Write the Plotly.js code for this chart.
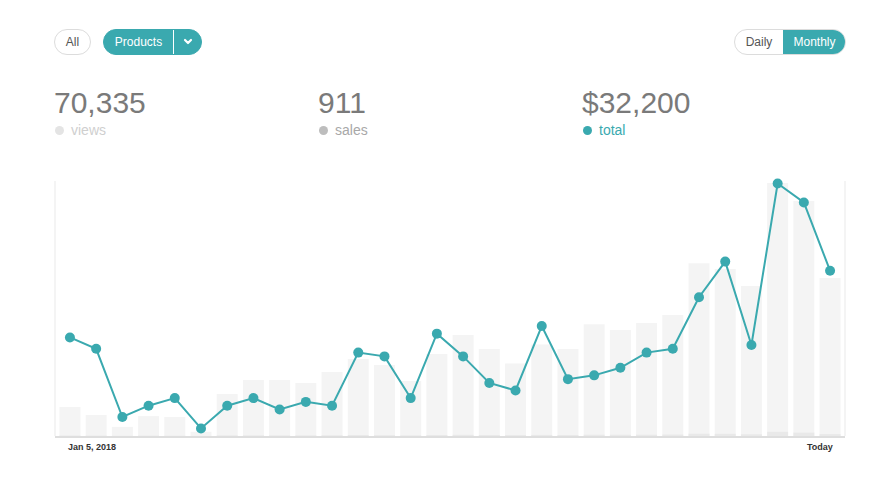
<!DOCTYPE html>
<html>
<head>
<meta charset="utf-8">
<script src="https://cdn.plot.ly/plotly-3.0.1.min.js"></script>
<style>
  html, body { margin: 0; padding: 0; background: #ffffff; }
  #wrap { position: relative; width: 892px; height: 480px; overflow: hidden; font-family: "Liberation Sans", Arial, Helvetica, sans-serif; }
  #chart { position: absolute; left: 0; top: 0; width: 892px; height: 480px; }
  .abs { position: absolute; box-sizing: border-box; }
  .pill { height: 26px; line-height: 24px; font-size: 12px; text-align: center; border-radius: 13px; }
  .num { font-size: 30px; color: #7a7a7a; line-height: 30px; letter-spacing: 0px; }
  .lbl { font-size: 14px; line-height: 16px; }
  .dot { width: 9px; height: 9px; border-radius: 50%; }
</style>
</head>
<body>
<div id="wrap">
  <div id="chart"></div>

  <!-- header controls -->
  <div class="abs pill" style="left:54px;top:29px;width:37px;border:1px solid #dcdcdc;color:#555;">All</div>
  <div class="abs pill" style="left:103px;top:29px;width:99px;background:#3aa9af;color:#fff;border:1px solid #3aa9af;">
    <span class="abs" style="left:0;top:0;width:69px;text-align:center;">Products</span>
    <span class="abs" style="left:69px;top:0;width:1px;height:24px;background:#ffffff;"></span>
    <svg class="abs" style="left:79px;top:8px;" width="10" height="8" viewBox="0 0 10 8">
      <polyline points="2,2 5,5 8,2" fill="none" stroke="#fff" stroke-width="2.2" stroke-linecap="round" stroke-linejoin="round"/>
    </svg>
  </div>
  <div class="abs pill" style="left:734px;top:29px;width:112px;border:1px solid #dcdcdc;overflow:hidden;">
    <span class="abs" style="left:0;top:0;width:48px;color:#555;text-align:center;">Daily</span>
    <span class="abs" style="left:48px;top:-1px;width:63px;height:26px;line-height:26px;background:#3aa9af;color:#fff;text-align:center;">Monthly</span>
  </div>

  <!-- stats -->
  <div class="abs num" id="s0" style="left:54px;top:88px;"></div>
  <div class="abs dot" style="left:55px;top:126px;background:#e4e4e4;"></div>
  <div class="abs lbl" id="l0" style="left:71px;top:122px;color:#cfcfcf;"></div>

  <div class="abs num" id="s1" style="left:318px;top:88px;"></div>
  <div class="abs dot" style="left:319px;top:126px;background:#bdbdbd;"></div>
  <div class="abs lbl" id="l1" style="left:335px;top:122px;color:#a8a8a8;"></div>

  <div class="abs num" id="s2" style="left:582px;top:88px;"></div>
  <div class="abs dot" style="left:583px;top:126px;background:#3aa9af;"></div>
  <div class="abs lbl" id="l2" style="left:599px;top:122px;color:#3aa9af;"></div>
</div>

<script>
// ---------------- data ----------------
var days = [
  "2018-01-05","2018-01-06","2018-01-07","2018-01-08","2018-01-09","2018-01-10",
  "2018-01-11","2018-01-12","2018-01-13","2018-01-14","2018-01-15","2018-01-16",
  "2018-01-17","2018-01-18","2018-01-19","2018-01-20","2018-01-21","2018-01-22",
  "2018-01-23","2018-01-24","2018-01-25","2018-01-26","2018-01-27","2018-01-28",
  "2018-01-29","2018-01-30","2018-01-31","2018-02-01","2018-02-02","2018-02-03"
];
var views = [760, 550, 240, 520, 500, 110, 1100, 1470, 1470, 1390,
             1680, 2020, 1860, 1440, 2150, 2650, 2280, 1900, 2400, 2280,
             2930, 2780, 2960, 3170, 4530, 4380, 3930, 6630, 6160, 4140];
var sales = [12, 10, 5, 10, 9, 3, 15, 18, 18, 17,
             20, 24, 22, 17, 26, 30, 27, 23, 29, 27,
             34, 32, 35, 37, 60, 56, 45, 110, 90, 50];
var total = [1300, 1150, 250, 400, 500, 100, 400, 500, 350, 450,
             400, 1100, 1050, 500, 1350, 1050, 700, 600, 1450, 750,
             800, 900, 1100, 1150, 1830, 2300, 1200, 3330, 3080, 2180];
var statValues = ["70,335", "911", "$32,200"];
var statLabels = ["views", "sales", "total"];
var tickLabels = ["Jan 5, 2018", "Today"];

// ---------------- header text ----------------
for (var i = 0; i < 3; i++) {
  document.getElementById("s" + i).textContent = statValues[i];
  document.getElementById("l" + i).textContent = statLabels[i];
}

// ---------------- chart ----------------
var teal = "#3aa9af";
var traces = [
  { type: "bar", x: days, y: views, marker: { color: "#f4f4f4", line: { width: 0 } }, hoverinfo: "skip" },
  { type: "bar", x: days, y: sales, marker: { color: "#e9e9e9", line: { width: 0 } }, hoverinfo: "skip" },
  { type: "scatter", mode: "lines+markers", x: days, y: total, yaxis: "y2", cliponaxis: false,
    line: { color: teal, width: 2 }, marker: { color: teal, size: 10, line: { width: 0 } }, hoverinfo: "skip" }
];

var layout = {
  width: 892, height: 480,
  margin: { l: 55, r: 47, t: 181, b: 44 },
  paper_bgcolor: "rgba(0,0,0,0)", plot_bgcolor: "rgba(0,0,0,0)",
  showlegend: false,
  barmode: "overlay",
  bargap: 0.2,
  font: { family: "Liberation Sans, Arial, sans-serif" },
  xaxis: { type: "category", range: [-0.57, 29.57], showticklabels: false, ticks: "",
           showgrid: false, zeroline: false, showline: true, linecolor: "#dedede", linewidth: 1.5, fixedrange: true },
  yaxis: { range: [0, 6685], visible: false, showgrid: false, zeroline: false, fixedrange: true },
  yaxis2: { range: [0, 3363], overlaying: "y", visible: false, showgrid: false, zeroline: false, fixedrange: true },
  shapes: [
    { type: "line", xref: "paper", yref: "paper", x0: 0, x1: 0, y0: 0, y1: 1, line: { color: "#f0f0f0", width: 1.5 } },
    { type: "line", xref: "paper", yref: "paper", x0: 1, x1: 1, y0: 0, y1: 1, line: { color: "#f0f0f0", width: 1.5 } }
  ],
  annotations: [
    { x: days[0], y: 0, xref: "x", yref: "paper", text: "<b>" + tickLabels[0] + "</b>", showarrow: false,
      xanchor: "left", yanchor: "top", xshift: -4, yshift: -4, font: { size: 9, color: "#333" } },
    { x: days[days.length - 1], y: 0, xref: "x", yref: "paper", text: "<b>" + tickLabels[1] + "</b>", showarrow: false,
      xanchor: "right", yanchor: "top", xshift: 5, yshift: -4, font: { size: 9, color: "#333" } }
  ]
};

Plotly.newPlot("chart", traces, layout, { staticPlot: true, displayModeBar: false });
</script>
</body>
</html>
